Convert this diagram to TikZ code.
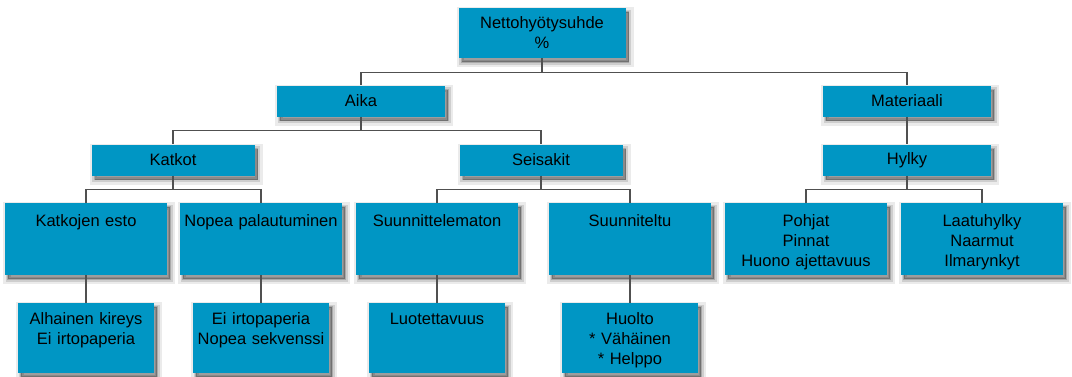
\documentclass[tikz,border=0pt]{standalone}
\usepackage{fontspec}
\setmainfont{Liberation Sans}
\definecolor{boxblue}{RGB}{0,150,196}
\definecolor{linegray}{RGB}{80,80,80}
\begin{document}
\begin{tikzpicture}[x=1pt,y=-1pt,thick]
\tikzstyle{shade}=[preaction={draw=black,fill=black,opacity=0.08,line width=10pt,transform canvas={xshift=3pt,yshift=-4pt}},
  preaction={draw=black,fill=black,opacity=0.12,line width=5pt,transform canvas={xshift=3pt,yshift=-4pt}},
  preaction={draw=black,fill=black,opacity=0.18,line width=1.5pt,transform canvas={xshift=3pt,yshift=-4pt}}]
\tikzstyle{box}=[rectangle,shade,fill=boxblue,text=black,inner sep=0pt,font=\fontsize{16.5}{20}\selectfont]
\tikzstyle{head}=[box,minimum width=168pt,minimum height=31pt]
\tikzstyle{tall}=[box,minimum width=162pt,text width=158pt,align=center,text height=23pt,text depth=49pt]
\tikzstyle{leaf}=[box,minimum width=136pt,text width=132pt,align=center,text height=21pt,text depth=49pt]
\tikzstyle{link}=[draw=linegray,line width=1.1pt]

\useasboundingbox (0,0) rectangle (1072,376);

\node[box,minimum width=167pt,minimum height=50pt,align=center] (netto) at (542,33) {Nettohyötysuhde\\\%};

\node[head] (aika) at (361,101) {Aika};
\node[head] (materiaali) at (907,101) {Materiaali};

\node[head,minimum width=163pt] (katkot) at (173,160) {Katkot};
\node[head,minimum width=163pt] (seisakit) at (541,160) {Seisakit};
\node[head] (hylky) at (907,160) {Hylky};

\node[tall] (esto) at (86,239) {Katkojen esto};
\node[tall] (palautuminen) at (261,239) {Nopea palautuminen};
\node[tall] (suunnittelematon) at (437,239) {Suunnittelematon};
\node[tall] (suunniteltu) at (630,239) {Suunniteltu};
\node[tall] (pohjat) at (806,239) {Pohjat\\Pinnat\\Huono ajettavuus};
\node[tall] (laatuhylky) at (982,239) {Laatuhylky\\Naarmut\\Ilmarynkyt};

\node[leaf] (kireys) at (86,338) {Alhainen kireys\\Ei irtopaperia};
\node[leaf] (irtopaperi) at (261,338) {Ei irtopaperia\\Nopea sekvenssi};
\node[leaf] (luotettavuus) at (437,338) {Luotettavuus};
\node[leaf] (huolto) at (630,338) {Huolto\\{}* Vähäinen\\{}* Helppo};

\draw[link] (netto.south) -- ++(0,14) -| (aika.north);
\draw[link] (netto.south) -- ++(0,14) -| (materiaali.north);
\draw[link] (aika.south) -- ++(0,14) -| (katkot.north);
\draw[link] (aika.south) -- ++(0,14) -| (seisakit.north);
\draw[link] (materiaali) -- (hylky);

% kolmas taso
\draw[link] (katkot.south) -- ++(0,14) -| (esto.north);
\draw[link] (katkot.south) -- ++(0,14) -| (palautuminen.north);
\draw[link] (seisakit.south) -- ++(0,14) -| (suunnittelematon.north);
\draw[link] (seisakit.south) -- ++(0,14) -| (suunniteltu.north);
\draw[link] (hylky.south) -- ++(0,14) -| (pohjat.north);
\draw[link] (hylky.south) -- ++(0,14) -| (laatuhylky.north);

\draw[link] (esto) -- (kireys);
\draw[link] (palautuminen) -- (irtopaperi);
\draw[link] (suunnittelematon) -- (luotettavuus);
\draw[link] (suunniteltu) -- (huolto);
\end{tikzpicture}
\end{document}
